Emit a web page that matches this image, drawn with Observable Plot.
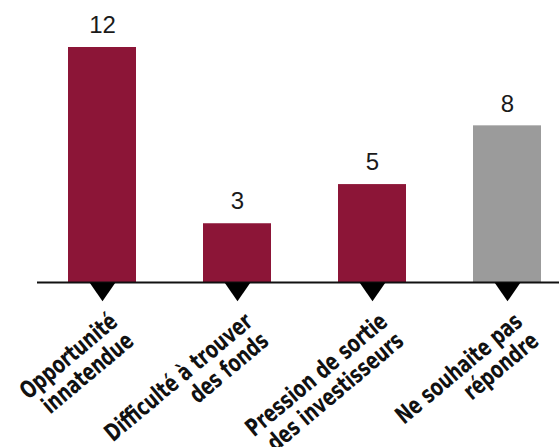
<!DOCTYPE html>
<html>
<head>
<meta charset="utf-8">
<script src="https://cdn.jsdelivr.net/npm/d3@7"></script>
<script src="https://cdn.jsdelivr.net/npm/@observablehq/plot@0.6"></script>
<style>
  html, body { margin: 0; padding: 0; background: #fff; }
  #chart svg { display: block; }
</style>
</head>
<body>
<div id="chart"></div>
<script>
const categories = [
  "Opportunité\ninnatendue",
  "Difficulté à trouver\ndes fonds",
  "Pression de sortie\ndes investisseurs",
  "Ne souhaite pas\nrépondre"
];
const values = [12, 3, 5, 8];
const noAnswer = "Ne souhaite pas\nrépondre";

const crimson = "#8c1537";
const gray = "#9b9b9b";

const data = categories.map((c, i) => ({category: c, value: values[i]}));

const downTriangle = {
  draw(context, size) {
    const r = Math.sqrt(size / Math.PI);
    context.moveTo(-r, 0);
    context.lineTo(r, 0);
    context.lineTo(0, r * 1.45);
    context.closePath();
  }
};

const chart = Plot.plot({
  width: 559,
  height: 447,
  marginTop: 47,
  marginBottom: 165,
  marginLeft: 37,
  marginRight: 0,
  x: {domain: categories, range: [0, 608], padding: 0.5, axis: null},
  y: {domain: [0, 12], axis: null},
  marks: [
    Plot.barY(data, {
      x: "category",
      y: "value",
      fill: d => d.category === noAnswer ? gray : crimson
    }),
    Plot.ruleY([0], {stroke: "#111", strokeWidth: 2}),
    Plot.dot(data, {
      x: "category",
      y: 0,
      r: 13,
      symbol: downTriangle,
      fill: "#000",
      stroke: "none"
    }),
    Plot.text(data, {
      x: "category",
      y: "value",
      text: d => String(d.value),
      dy: -22,
      fontSize: 24,
      fill: "#1a1a1a",
      fontFamily: "Liberation Sans, Arial, sans-serif"
    }),
    Plot.text(data, {
      x: "category",
      y: 0,
      text: "category",
      rotate: -40,
      textAnchor: "end",
      lineAnchor: "top",
      lineHeight: 1.05,
      dx: 5,
      dy: 28,
      fontSize: 24,
      fontWeight: "bold",
      fill: "#111",
      className: "cat-labels",
      fontFamily: "DejaVu Sans Condensed, Arial Narrow, sans-serif"
    })
  ]
});
// narrow the label glyphs horizontally (condensed look of the reference)
d3.select(chart).selectAll(".cat-labels text").each(function() {
  const t = this.getAttribute("transform") || "";
  this.setAttribute("transform", t + " scale(0.8,1)");
});
document.getElementById("chart").appendChild(chart);
</script>
</body>
</html>
